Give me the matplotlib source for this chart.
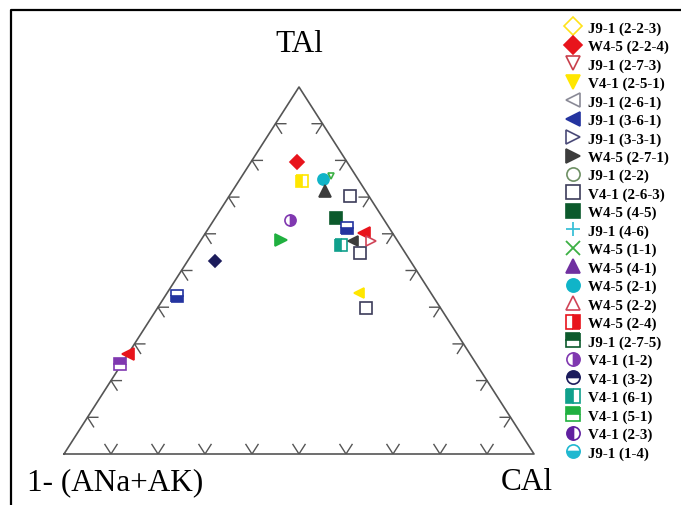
'''
三角图 TAl - CAl - 1-(ANa+AK)
'''
import matplotlib.pyplot as plt
from matplotlib.lines import Line2D
import numpy as np

plt.rcParams['font.family'] = ['Liberation Serif', 'DejaVu Serif']

# 图例：名称、符号、颜色、填充方式
legend_names = ['J9-1 (2-2-3)', 'W4-5 (2-2-4)', 'J9-1 (2-7-3)', 'V4-1 (2-5-1)',
                'J9-1 (2-6-1)', 'J9-1 (3-6-1)', 'J9-1 (3-3-1)', 'W4-5 (2-7-1)',
                'J9-1 (2-2)', 'V4-1 (2-6-3)', 'W4-5 (4-5)', 'J9-1 (4-6)',
                'W4-5 (1-1)', 'W4-5 (4-1)', 'W4-5 (2-1)', 'W4-5 (2-2)',
                'W4-5 (2-4)', 'J9-1 (2-7-5)', 'V4-1 (1-2)', 'V4-1 (3-2)',
                'V4-1 (6-1)', 'V4-1 (5-1)', 'V4-1 (2-3)', 'J9-1 (1-4)']
legend_markers = ['D', 'D', 'v', 'v', '<', '<', '>', '>', 'o', 's', 's', '+',
                  'x', '^', 'o', '^', 's', 's', 'o', 'o', 's', 's', 'o', 'o']
legend_colors = ['#ffe21a', '#e8141c', '#c8404c', '#ffe600', '#8a8a96', '#2434a0',
                 '#4a4a78', '#3c3c3c', '#6e9064', '#3c3c5a', '#0c5a2c', '#3cc0d8',
                 '#3cb044', '#7030a0', '#10b4c8', '#d04458', '#e8141c', '#0c5a2c',
                 '#8038b0', '#1c1c5c', '#10a08c', '#20b040', '#6020a0', '#20b8d0']
legend_fill = ['none', 'full', 'none', 'full', 'none', 'full', 'none', 'full',
               'none', 'none', 'full', 'full', 'full', 'full', 'full', 'none',
               'right', 'top', 'right', 'top', 'left', 'top', 'left', 'bottom']

# 投点数据 (TAl, CAl)，1-(ANa+AK) = 1 - TAl - CAl
pt_tal = [0.796, 0.744, 0.749, 0.757, 0.717, 0.703, 0.638, 0.643, 0.616, 0.602,
          0.580, 0.583, 0.569, 0.580, 0.548, 0.526, 0.431, 0.439, 0.398, 0.272, 0.245]
pt_cal = [0.098, 0.134, 0.176, 0.189, 0.197, 0.258, 0.162, 0.257, 0.294, 0.337,
          0.363, 0.170, 0.305, 0.325, 0.356, 0.058, 0.025, 0.408, 0.444, 0.000, -0.004]
pt_marker = ['D', 's', 'o', 'v', '^', 's', 'o', 's', 's', '<',
             '>', '>', 's', '<', 's', 'D', 's', '<', 's', '<', 's']
pt_color = ['#e8141c', '#ffe600', '#10b4c8', '#3cb044', '#3c3c3c', '#3c3c5a', '#8038b0',
            '#0c5a2c', '#2434a0', '#e8141c', '#d04458', '#20b040', '#10a08c', '#3c3c3c',
            '#3c3c5a', '#1c1c5c', '#2434a0', '#ffe600', '#3c3c5a', '#e8141c', '#8038b0']
pt_fill = ['full', 'left', 'full', 'none', 'full', 'none', 'right', 'full', 'bottom', 'full',
           'none', 'full', 'left', 'full', 'none', 'full', 'bottom', 'full', 'none', 'full', 'top']
pt_size = [7, 8, 8, 5, 8, 8, 8, 8, 8, 8, 7, 8, 8, 7, 8, 6, 8, 7, 8, 8, 8]


def tern_xy(tal, cal):
    tal = np.asarray(tal)
    cal = np.asarray(cal)
    return cal + tal / 2, tal


def style(marker, color, fill, size):
    kw = dict(marker=marker, markersize=size, markeredgewidth=1.2, linestyle='none')
    if marker in ('+', 'x'):
        kw.update(color=color, markeredgewidth=1.3)
    elif fill == 'none':
        kw.update(markerfacecolor='white', markeredgecolor=color)
    elif fill == 'full':
        kw.update(markerfacecolor=color, markeredgecolor=color)
    else:
        kw.update(fillstyle=fill, markerfacecolor=color, markerfacecoloralt='white',
                  markeredgecolor=color)
    return kw


fig = plt.figure(figsize=(6.81, 5.06), dpi=100)
ax = fig.add_axes([64 / 681, 1 - 455 / 506, 470 / 681, 367 / 506])
ax.set_xlim(0, 1)
ax.set_ylim(0, 1)
ax.axis('off')

# 三角形边框
ax.plot([0, 1, 0.5, 0], [0, 0, 1, 0], color='#555555', lw=1.2, clip_on=False)

# 刻度
L = 0.026
H = 0.022
for k in range(1, 10):
    t = k / 10
    ax.plot([t - L / 2, t, t + L / 2], [L, 0, L], color='#555555', lw=1.0)
    xl, yl = t / 2, t
    ax.plot([xl + H, xl, xl + L / 2], [yl, yl, yl - L], color='#555555', lw=1.0)
    xr, yr = 1 - t / 2, t
    ax.plot([xr - H, xr, xr - L / 2], [yr, yr, yr - L], color='#555555', lw=1.0)

# 数据点
xs, ys = tern_xy(pt_tal, pt_cal)
for x, y, m, c, f, s in zip(xs, ys, pt_marker, pt_color, pt_fill, pt_size):
    ax.plot([x], [y], clip_on=False, **style(m, c, f, s))

# 顶点标签
fig.text(299 / 681, 1 - 45 / 506, 'TAl', ha='center', va='center', fontsize=22.5)
fig.text(27 / 681, 1 - 483 / 506, '1- (ANa+AK)', ha='left', va='center', fontsize=22.5)
fig.text(527 / 681, 1 - 483 / 506, 'CAl', ha='center', va='center', fontsize=22.5)

# 外框
fig.add_artist(Line2D([11 / 681, 11 / 681, 1.0], [0.0, 1 - 11 / 506, 1 - 11 / 506],
                      color='black', lw=1.6))

# 图例
handles = [Line2D([], [], **style(m, c, f, 9.5))
           for m, c, f in zip(legend_markers, legend_colors, legend_fill)]
fig.legend(handles, legend_names, loc='upper left', bbox_to_anchor=(566 / 681, 1 - 22 / 506),
           frameon=False, prop=dict(weight='bold', size=10.8), handlelength=0.9,
           handletextpad=0.55, labelspacing=0.32, borderpad=0, borderaxespad=0)

plt.savefig('out.png', dpi=100)
